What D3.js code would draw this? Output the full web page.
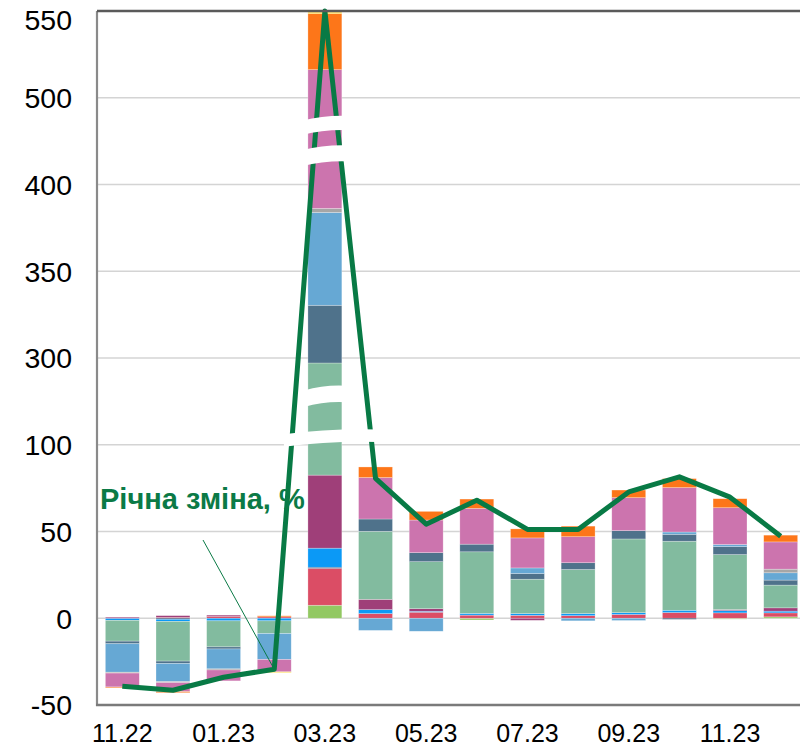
<!DOCTYPE html>
<html>
<head>
<meta charset="utf-8">
<script src="https://cdn.jsdelivr.net/npm/d3@7"></script>
<style>
  html, body { margin: 0; padding: 0; background: #fff; }
  svg { display: block; }
</style>
</head>
<body>
<svg id="chart" width="800" height="748"></svg>
<script>
// Months on the x axis
const months = ["11.22","12.22","01.23","02.23","03.23","04.23","05.23","06.23","07.23","08.23","09.23","10.23","11.23","12.23"];
const monthLabels = ["11.22","01.23","03.23","05.23","07.23","09.23","11.23"];

// Broken value axis: ticks are spaced evenly, values between them are linear per segment
const yTicks = [-50, 0, 50, 100, 300, 350, 400, 500, 550];

// Contributions to the annual change, by component (pp)
const lightGreen = [0, 0, 0, 0, 7.5, 0, 0, -1, 0, 0, 0, 0, -0.5, 0.8];
const red        = [0, 0.5, 1, 0.8, 21.3, 2.7, 3.5, 1.8, 1.7, 1.5, 2.2, 3.3, 3.1, 2.3];
const navy       = [0, -0.6, 0, 0, 0.6, 0, 0, 0, 0, 0, 0, -0.6, 0, 0];
const brightBlue = [-1.2, -1.2, -1.5, -1.5, 11, 2.3, 0.5, 1, 1, 1.2, 1, 1.3, 1.3, 1];
const purple     = [0.6, 1, 0.8, 0, 42.1, 5.9, 1.5, 0, -1.2, 0, 0, 0, 0.6, 1.9];
const green      = [-12, -22.9, -15, -7.3, 206, 39.2, 27.1, 35.5, 19.8, 25.4, 42.5, 39.8, 31.7, 13.1];
const slate      = [-1.5, -1.4, -1.2, 0, 41.9, 7.1, 5.2, 4.4, 3.3, 3.9, 4.8, 4, 4.6, 2.9];
const lightBlue  = [-16.4, -10.4, -11.5, -15, 53.5, -7, -7.5, 0, 3.2, -1.5, -1.3, 1.3, 1.2, 4.2];
const gray       = [-0.5, -0.6, -0.6, 0, 2.3, 0, 0, 0, 0, 0, 0, 0, 0, 2.1];
const pink       = [-8, -5.2, -6.3, -7.1, 130, 23.9, 18.8, 20.6, 17.3, 15, 19, 25.6, 21.2, 15.7];
const orange     = [-0.5, -0.6, 0, 0.6, 32.3, 6.1, 5, 5.4, 5.2, 6.1, 4.4, 5.2, 5.2, 3.9];
const yellow     = [0, 0, 0, -0.4, 0.8, 0, 0, 0, 0, 0, 0, 0, 0, 0];

// Annual change, %
const annualChange = [-39.2, -41.5, -34, -29.4, 550, 80.6, 54.2, 68, 51.2, 51.2, 72.8, 81.5, 69.8, 47.3];
const lineLabel = "Річна зміна, %";

const series = [
  { key: "lightGreen", values: lightGreen, color: "#92c862" },
  { key: "red",        values: red,        color: "#db4d65" },
  { key: "navy",       values: navy,       color: "#1e3a5f" },
  { key: "brightBlue", values: brightBlue, color: "#0b99f6" },
  { key: "purple",     values: purple,     color: "#9f3f79" },
  { key: "green",      values: green,      color: "#82bb9f" },
  { key: "slate",      values: slate,      color: "#4f728b" },
  { key: "lightBlue",  values: lightBlue,  color: "#66a8d4" },
  { key: "gray",       values: gray,       color: "#a6a6a6" },
  { key: "pink",       values: pink,       color: "#cc74ae" },
  { key: "orange",     values: orange,     color: "#fd7619" },
  { key: "yellow",     values: yellow,     color: "#ffd21f" }
];

const rows = months.map((m, i) => {
  const r = { month: m };
  series.forEach(s => { r[s.key] = s.values[i]; });
  return r;
});

const svg = d3.select("#chart");
const plot = { left: 97, right: 806, top: 11, bottom: 705 };

const x = d3.scaleBand().domain(months).range([plot.left, plot.right]).paddingInner(0.33).paddingOuter(0.165);
const step = (plot.bottom - plot.top) / (yTicks.length - 1);
const y = d3.scaleLinear().domain(yTicks).range(yTicks.map((d, i) => plot.bottom - i * step));

// Gridlines
svg.append("g").selectAll("line").data(yTicks.filter(d => d !== -50 && d !== 550)).join("line")
  .attr("x1", plot.left).attr("x2", 800)
  .attr("y1", d => y(d)).attr("y2", d => y(d))
  .attr("stroke", "#d4d4d4").attr("stroke-width", 1.6);

// Stacked bars
const stacked = d3.stack().keys(series.map(s => s.key)).offset(d3.stackOffsetDiverging)(rows);
const colorOf = Object.fromEntries(series.map(s => [s.key, s.color]));

svg.append("g").selectAll("g").data(stacked).join("g")
  .attr("fill", d => colorOf[d.key])
  .selectAll("rect").data(d => d).join("rect")
  .attr("x", d => x(d.data.month))
  .attr("width", x.bandwidth())
  .attr("y", d => y(Math.max(d[0], d[1])))
  .attr("height", d => Math.abs(y(d[0]) - y(d[1])))
  .attr("stroke", "rgba(255,255,255,0.45)")
  .attr("stroke-width", 0.6);

// Annual change line
const cx = m => x(m) + x.bandwidth() / 2;
const linePts = months.map((m, i) => [cx(m), y(annualChange[i])]);
svg.append("path")
  .attr("d", d3.line()(linePts))
  .attr("fill", "none")
  .attr("stroke", "#087a45")
  .attr("stroke-width", 5)
  .attr("stroke-linejoin", "round");

// Axis-break marks over the tall bar
const peak = months[annualChange.indexOf(d3.max(annualChange))];
const bx0 = x(peak), bw = x.bandwidth();
function breakBand(yTop, yBot, xl, xr, sag) {
  const mid = (xl + xr) / 2;
  return `M${xl},${yTop + sag} Q${mid},${yTop - sag} ${xr},${yTop - sag * 0.6}` +
         ` L${xr},${yBot - sag * 0.6} Q${mid},${yBot - sag} ${xl},${yBot + sag} Z`;
}
const upperGap = y(500) - y(400);
const lowerGap = y(300) - y(100);
const breaks = [
  { t: y(400) + upperGap * 0.605, b: y(400) + upperGap * 0.77, l: bx0 - 6, r: bx0 + bw + 8 },
  { t: y(400) + upperGap * 0.245, b: y(400) + upperGap * 0.43, l: bx0 - 6, r: bx0 + bw + 8 },
  { t: y(100) + lowerGap * 0.47, b: y(100) + lowerGap * 0.66, l: bx0 - 4, r: bx0 + bw + 4 },
  { t: y(100) + lowerGap * 0.0 - 1, b: y(100) + lowerGap * 0.155, l: bx0 - 24, r: bx0 + bw + 36 }
];
svg.append("g").selectAll("path").data(breaks).join("path")
  .attr("d", d => breakBand(d.t, d.b, d.l, d.r, 3))
  .attr("fill", "#fff");

// Frame
svg.append("line").attr("x1", plot.left).attr("x2", plot.left).attr("y1", plot.top).attr("y2", plot.bottom + 1)
  .attr("stroke", "#8a8a8a").attr("stroke-width", 2.2);
svg.append("line").attr("x1", plot.left).attr("x2", 800).attr("y1", plot.top).attr("y2", plot.top)
  .attr("stroke", "#5a5a5a").attr("stroke-width", 2.5);
svg.append("line").attr("x1", plot.left - 1).attr("x2", 800).attr("y1", plot.bottom).attr("y2", plot.bottom)
  .attr("stroke", "#7a7a7a").attr("stroke-width", 2.5);

// Y tick labels
svg.append("g").selectAll("text").data(yTicks).join("text")
  .attr("x", 72)
  .attr("y", d => Math.max(y(d), 20))
  .attr("dy", "0.36em")
  .attr("text-anchor", "end")
  .attr("font-family", "'Liberation Sans', Arial, sans-serif")
  .attr("font-size", 28.5)
  .attr("fill", "#000")
  .text(d => d);

// X tick labels
svg.append("g").selectAll("text").data(monthLabels).join("text")
  .attr("x", d => cx(d))
  .attr("y", 742)
  .attr("text-anchor", "middle")
  .attr("font-family", "'Liberation Sans', Arial, sans-serif")
  .attr("font-size", 25)
  .attr("fill", "#000")
  .text(d => d);

// Series label with leader line to the February point
const labelX = 100, labelY = 509;
svg.append("text")
  .attr("x", labelX).attr("y", labelY)
  .attr("font-family", "'Liberation Sans', Arial, sans-serif")
  .attr("font-weight", "bold")
  .attr("font-size", 29)
  .attr("fill", "#0b7a46")
  .text(lineLabel);
const target = linePts[3];
svg.append("line")
  .attr("x1", labelX + 103).attr("y1", labelY + 31)
  .attr("x2", target[0]).attr("y2", target[1])
  .attr("stroke", "#0b7a46").attr("stroke-width", 1);
</script>
</body>
</html>
